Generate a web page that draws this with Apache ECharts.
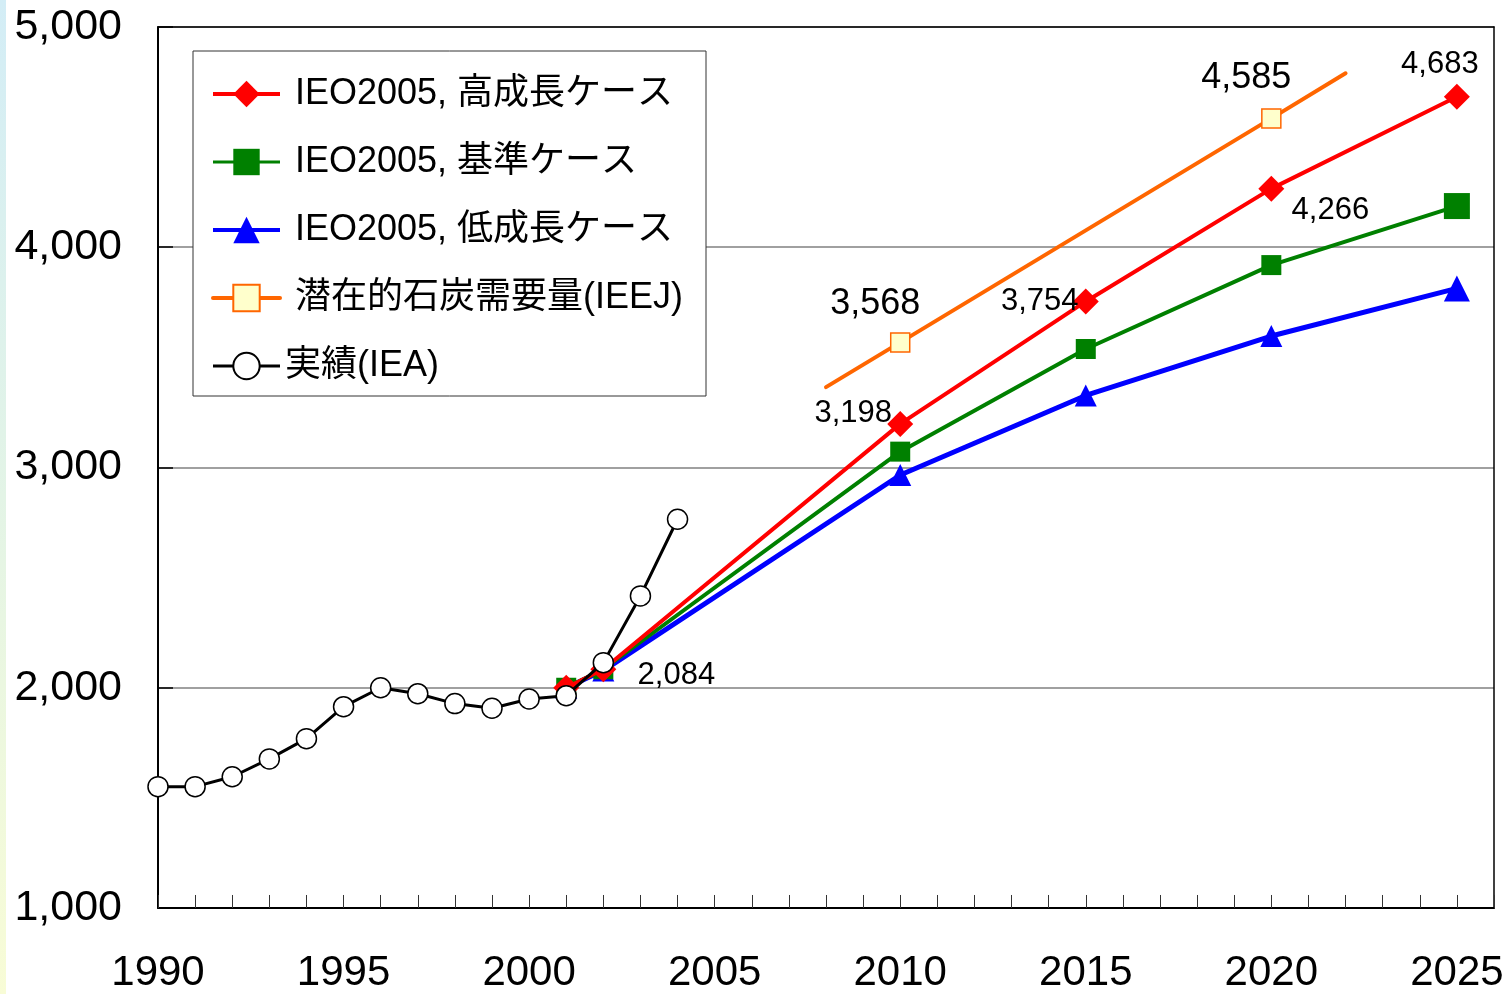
<!DOCTYPE html>
<html>
<head>
<meta charset="utf-8">
<script src="https://cdn.jsdelivr.net/npm/echarts@6/dist/echarts.min.js"></script>
<style>
  html, body { margin: 0; padding: 0; background: #ffffff; }
  #chart { width: 1511px; height: 994px; }
</style>
</head>
<body>
<div id="chart"></div>
<script>
// World coal demand (Mt): IEA history and IEO2005 / IEEJ outlooks
const histYears  = [1990, 1991, 1992, 1993, 1994, 1995, 1996, 1997, 1998, 1999, 2000, 2001, 2002, 2003, 2004];
const histValues = [1551, 1551, 1596, 1677, 1769, 1914, 2000, 1973, 1928, 1907, 1949, 1964, 2114, 2417, 2765];

const projYears  = [2001, 2002, 2010, 2015, 2020, 2025];
const highCase   = [2000, 2084, 3198, 3754, 4266, 4683];
const refCase    = [2000, 2084, 3072, 3538, 3919, 4187];
const lowCase    = [2000, 2078, 2966, 3327, 3597, 3813];

const ieejYears  = [2008, 2010, 2020, 2022];
const ieejValues = [3365, 3568, 4585, 4790];
const ieejMarked = [false, true, true, false];

const seriesNames = [
  'IEO2005, 高成長ケース',
  'IEO2005, 基準ケース',
  'IEO2005, 低成長ケース',
  '潜在的石炭需要量(IEEJ)',
  '実績(IEA)'
];

const yMin = 1000, yMax = 5000, yStep = 1000;
const xMin = 1990, xMax = 2026, xLabelStep = 5;

// value labels: year -> pixel offset of the text centre from the marker
const highLabelOffsets = { 2002: [73, 6], 2010: [-47, -10], 2015: [-46, 0], 2020: [59, 22], 2025: [-17, -32] };
const ieejLabelOffsets = { 2010: [-25, -38], 2020: [-25, -40] };

const FONT = '"Liberation Sans", Arial, "Noto Sans CJK JP", sans-serif';
const fmt = v => v.toLocaleString('en-US');

function points(xs, ys, offsets, fontSize) {
  return xs.map((x, i) => {
    const item = { value: [x, ys[i]] };
    if (offsets && offsets[x]) {
      item.label = {
        show: true, position: 'inside', offset: offsets[x],
        formatter: p => fmt(p.value[1]),
        color: '#000', fontSize: fontSize, fontFamily: FONT
      };
    }
    return item;
  });
}

const lastBig = (data, size) => data.map((d, i) => (i === data.length - 1 ? Object.assign(d, { symbolSize: size }) : d));

const chart = echarts.init(document.getElementById('chart'), null, { renderer: 'canvas' });

const ieejData = points(ieejYears, ieejValues, ieejLabelOffsets, 36).map((d, i) =>
  ieejMarked[i] ? d : Object.assign(d, { symbol: 'none' }));

chart.setOption({
  animation: false,
  backgroundColor: '#ffffff',
  graphic: [{
    type: 'rect', left: 0, top: 0, z: 100,
    shape: { width: 6, height: 994 },
    style: {
      fill: new echarts.graphic.LinearGradient(0, 0, 0, 1, [
        { offset: 0, color: '#d3edf6' },
        { offset: 0.5, color: '#e3f4e6' },
        { offset: 1, color: '#f8fcd6' }
      ])
    }
  }],
  grid: { left: 158, right: 17, top: 27, bottom: 86, show: false },
  legend: {
    orient: 'vertical',
    left: 193, top: 51,
    padding: [25, 23, 12, 18],
    itemWidth: 67, itemHeight: 33, itemGap: 32,
    backgroundColor: '#ffffff',
    borderColor: '#333333', borderWidth: 1,
    textStyle: { fontSize: 36, lineHeight: 36, color: '#000', fontFamily: FONT, padding: [0, 0, 0, 10] },
    data: [
      { name: seriesNames[0], lineStyle: { width: 4 } },
      { name: seriesNames[1], lineStyle: { width: 3 } },
      { name: seriesNames[2], lineStyle: { width: 4 } },
      { name: seriesNames[3], lineStyle: { width: 4 } },
      { name: seriesNames[4], lineStyle: { width: 3 }, textStyle: { padding: [0, 0, 0, 0] } }
    ]
  },
  xAxis: [{
    type: 'value', min: xMin, max: xMax, interval: 1,
    axisLine: { show: true, onZero: false, lineStyle: { color: '#000', width: 2 } },
    axisTick: { show: true, inside: true, length: 13, lineStyle: { color: '#333', width: 1 } },
    splitLine: { show: false },
    axisLabel: {
      margin: 44, fontSize: 42, color: '#000', fontFamily: FONT,
      formatter: v => (v % xLabelStep === 0 && v <= 2025 ? String(v) : ''),
      showMaxLabel: true, showMinLabel: true
    }
  }, {
    type: 'value', position: 'top', min: xMin, max: xMax,
    axisLine: { show: true, onZero: false, lineStyle: { color: '#000', width: 1.5 } },
    axisTick: { show: false }, axisLabel: { show: false }, splitLine: { show: false }
  }],
  yAxis: [{
    type: 'value', min: yMin, max: yMax, interval: yStep,
    axisLine: { show: true, onZero: false, lineStyle: { color: '#000', width: 2 } },
    axisTick: { show: true, inside: true, length: 15, lineStyle: { color: '#000', width: 1.5 } },
    splitLine: { show: true, lineStyle: { color: '#808080', width: 1.5 } },
    axisLabel: { margin: 36, fontSize: 43, color: '#000', fontFamily: FONT, formatter: v => fmt(v) }
  }, {
    type: 'value', position: 'right', min: yMin, max: yMax,
    axisLine: { show: true, onZero: false, lineStyle: { color: '#000', width: 1.5 } },
    axisTick: { show: false }, axisLabel: { show: false }, splitLine: { show: false }
  }],
  series: [
    {
      name: seriesNames[0], type: 'line', z: 5,
      data: points(projYears, highCase, highLabelOffsets, 31),
      symbol: 'diamond', symbolSize: 26,
      lineStyle: { color: '#ff0000', width: 4 },
      itemStyle: { color: '#ff0000' }
    },
    {
      name: seriesNames[1], type: 'line', z: 4,
      data: lastBig(points(projYears, refCase), 26),
      symbol: 'rect', symbolSize: 20,
      lineStyle: { color: '#008000', width: 4 },
      itemStyle: { color: '#008000' }
    },
    {
      name: seriesNames[2], type: 'line', z: 3,
      data: lastBig(points(projYears, lowCase), 26),
      symbol: 'triangle', symbolSize: 22,
      lineStyle: { color: '#0000ff', width: 5 },
      itemStyle: { color: '#0000ff' }
    },
    {
      name: seriesNames[3], type: 'line', z: 6,
      data: ieejData,
      symbol: 'rect', symbolSize: 19,
      lineStyle: { color: '#ff6600', width: 4, cap: 'round' },
      itemStyle: { color: '#ffffcc', borderColor: '#ff6600', borderWidth: 1.5 }
    },
    {
      name: seriesNames[4], type: 'line', z: 7,
      data: points(histYears, histValues),
      symbol: 'circle', symbolSize: 20,
      lineStyle: { color: '#000000', width: 3 },
      itemStyle: { color: '#ffffff', borderColor: '#000000', borderWidth: 1.5 }
    }
  ]
});
</script>
</body>
</html>
